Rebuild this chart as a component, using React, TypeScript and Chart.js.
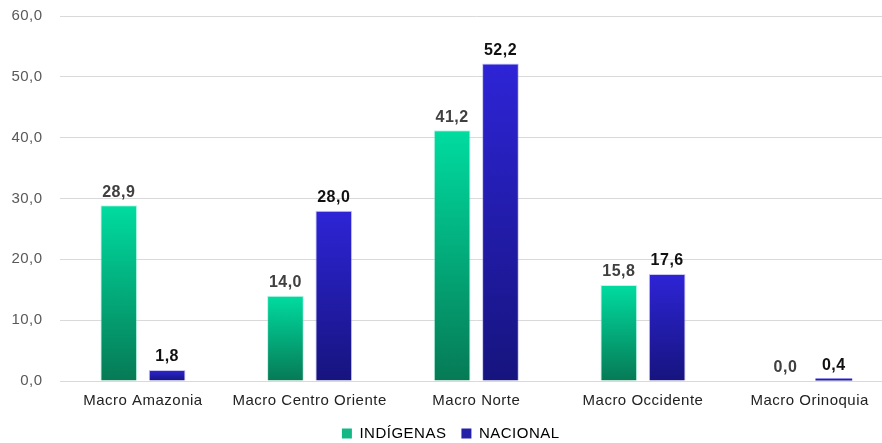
import React, { useEffect, useRef } from "react";
import { Chart, registerables } from "chart.js";

Chart.register(...registerables);

const categories = ["Macro Amazonia", "Macro Centro Oriente", "Macro Norte", "Macro Occidente", "Macro Orinoquia"];
const indigenas = [28.9, 14.0, 41.2, 15.8, 0.0];
const nacional = [1.8, 28.0, 52.2, 17.6, 0.4];
const seriesNames = ["INDÍGENAS", "NACIONAL"];

const FONT = "'Liberation Sans', Arial, sans-serif";
const fmt = (v: number) => v.toFixed(1).replace(".", ",");

function gradientFor(top: string, bottom: string) {
  return (ctx: any) => {
    const chart = ctx.chart;
    const area = chart.chartArea;
    if (!area || ctx.type !== "data") return top;
    const y = chart.scales.y;
    const v = ctx.raw as number;
    const yt = y.getPixelForValue(v);
    const yb = y.getPixelForValue(0);
    if (!isFinite(yt) || !isFinite(yb) || Math.abs(yb - yt) < 1) return top;
    const g = chart.ctx.createLinearGradient(0, yt, 0, yb);
    g.addColorStop(0, top);
    g.addColorStop(1, bottom);
    return g;
  };
}

const spacingPlugin = {
  id: "letterSpacing",
  beforeInit(chart: any) {
    (chart.ctx as any).letterSpacing = "0.5px";
  },
  beforeDraw(chart: any) {
    (chart.ctx as any).letterSpacing = "0.5px";
  },
};

const labelPlugin = {
  id: "valueLabels",
  afterDatasetsDraw(chart: any) {
    const ctx = chart.ctx;
    ctx.save();
    (ctx as any).letterSpacing = "0.5px";
    ctx.font = `bold 16px ${FONT}`;
    ctx.textAlign = "center";
    ctx.textBaseline = "bottom";
    chart.data.datasets.forEach((ds: any, di: number) => {
      const meta = chart.getDatasetMeta(di);
      ctx.fillStyle = di === 0 ? "#404040" : "#111111";
      meta.data.forEach((bar: any, i: number) => {
        ctx.fillText(fmt(ds.data[i]), bar.x, bar.y - 5);
      });
    });
    ctx.restore();
  },
};

const borderW = (ctx: any) => (ctx.raw !== undefined && ctx.raw < 1 ? 0 : 1);

export default function App() {
  const ref = useRef<HTMLCanvasElement | null>(null);
  useEffect(() => {
    if (!ref.current) return;
    const chart = new Chart(ref.current, {
      type: "bar",
      data: {
        labels: categories,
        datasets: [
          {
            label: seriesNames[0],
            data: indigenas,
            backgroundColor: gradientFor("#00dca0", "#067a55"),
            borderColor: "rgba(120,240,200,0.5)",
            borderWidth: borderW,
            categoryPercentage: 0.58,
            barPercentage: 0.76,
          },
          {
            label: seriesNames[1],
            data: nacional,
            backgroundColor: gradientFor("#2e24d6", "#16147e"),
            borderColor: "rgba(150,150,230,0.5)",
            borderWidth: borderW,
            categoryPercentage: 0.58,
            barPercentage: 0.76,
          },
        ],
      },
      options: {
        responsive: false,
        animation: false,
        maintainAspectRatio: false,
        layout: { padding: { top: 7, right: 2, left: 0, bottom: 0 } },
        scales: {
          x: {
            grid: { display: false },
            border: { display: false },
            afterFit: (s: any) => { s.height = s.height - 2; },
            ticks: { color: "#222222", font: { family: FONT, size: 15 }, padding: 3, maxRotation: 0 },
          },
          y: {
            min: 0,
            max: 60,
            grid: { color: "#d9d9d9", drawTicks: false },
            border: { display: false },
            afterFit: (s: any) => { s.width = 59.6; },
            ticks: {
              stepSize: 10,
              padding: 17,
              color: "#595959",
              font: { family: FONT, size: 15 },
              callback: (v: any) => fmt(Number(v)),
            },
          },
        },
        plugins: {
          tooltip: { enabled: false },
          legend: {
            position: "bottom",
            labels: {
              color: "#333333",
              font: { family: FONT, size: 15 },
              boxWidth: 10,
              boxHeight: 10,
              padding: 15,
              generateLabels: () => [
                { text: seriesNames[0], fillStyle: "#14b884", strokeStyle: "#14b884", lineWidth: 0, datasetIndex: 0 } as any,
                { text: seriesNames[1], fillStyle: "#2420a8", strokeStyle: "#2420a8", lineWidth: 0, datasetIndex: 1 } as any,
              ],
            },
          },
        },
      },
      plugins: [spacingPlugin, labelPlugin],
    });
    return () => chart.destroy();
  }, []);
  return (
    <div style={{ position: "absolute", left: 0, top: 0, width: 882, height: 443, overflow: "hidden", background: "#fff" }}>
      <canvas ref={ref} width={895} height={461} style={{ display: "block", position: "absolute", left: 0, top: -10, width: 895, height: 461 }} />
    </div>
  );
}
